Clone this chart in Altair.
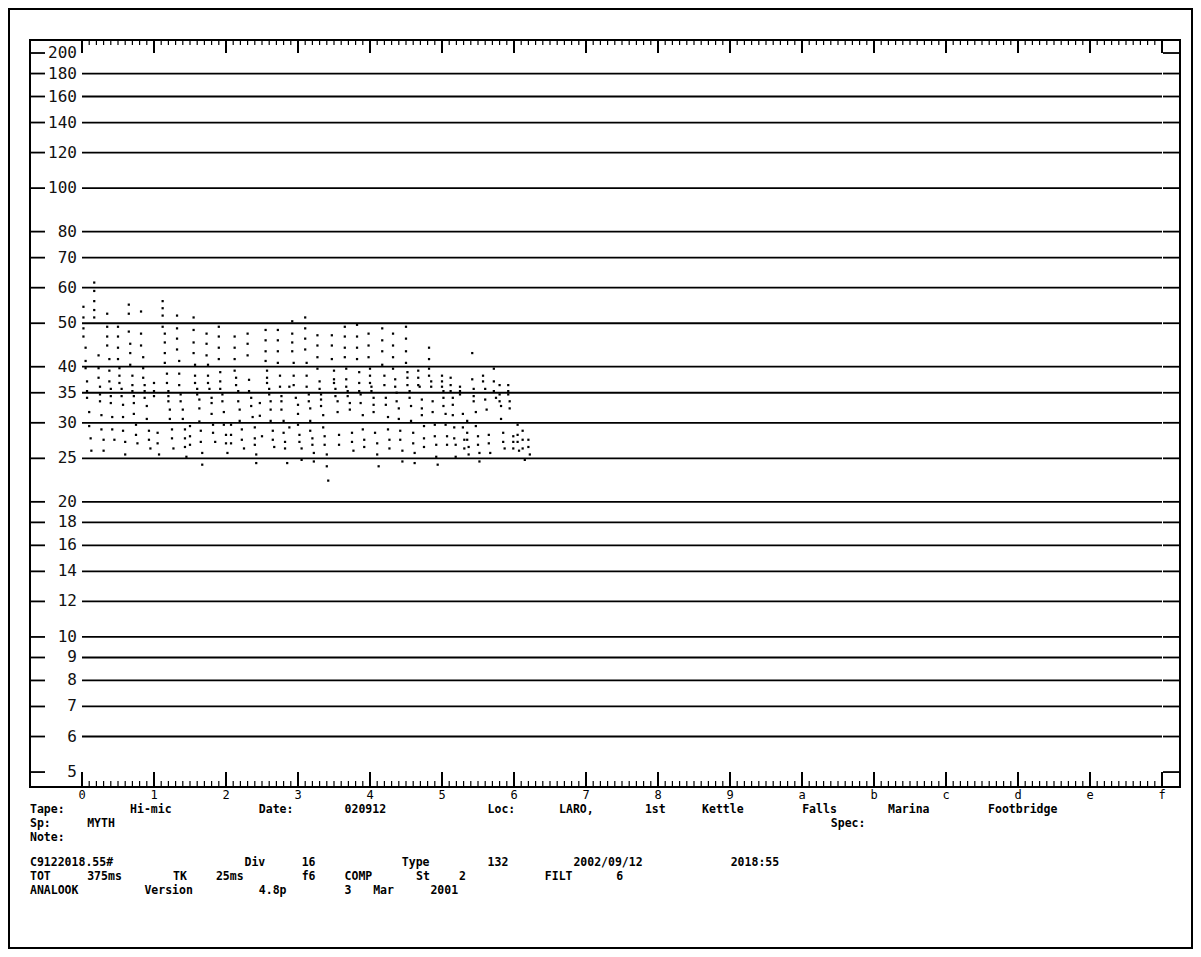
import re
import altair as alt
import pandas as pd

# ---------------- data (time units, kHz) ----------------
dots_a = [
    (0.02, 54.4), (0.02, 51.5), (0.02, 48.7), (0.02, 46.7), (0.05, 44.1), (0.05, 41.2), (0.05, 39.7),
    (0.07, 37.1), (0.07, 35.3), (0.07, 34.1), (0.10, 31.7), (0.10, 29.5), (0.12, 27.7), (0.13, 26.0),
    (0.17, 61.6), (0.17, 59.0), (0.17, 56.0), (0.17, 53.5), (0.17, 51.5),
    (0.23, 42.4), (0.23, 39.7), (0.23, 37.8), (0.25, 36.1), (0.25, 34.7), (0.25, 33.5), (0.27, 31.2),
    (0.27, 29.0), (0.30, 27.5), (0.30, 26.0),
    (0.35, 52.5), (0.35, 49.1), (0.35, 46.7), (0.35, 44.6), (0.38, 41.6), (0.38, 39.2), (0.38, 37.1),
    (0.40, 35.7), (0.40, 34.4), (0.40, 33.2), (0.42, 30.9), (0.42, 29.0), (0.45, 27.5),
    (0.50, 49.1), (0.50, 46.7), (0.50, 44.1), (0.50, 41.6), (0.52, 39.7), (0.52, 38.2), (0.52, 36.8),
    (0.55, 35.7), (0.55, 34.4), (0.57, 32.9), (0.57, 30.9), (0.57, 28.8), (0.60, 27.2), (0.60, 25.5),
    (0.65, 55.0), (0.65, 52.5), (0.65, 47.9), (0.67, 45.0), (0.67, 42.9), (0.67, 40.4), (0.70, 38.2),
    (0.70, 36.4), (0.70, 35.3), (0.72, 34.4), (0.72, 33.2), (0.72, 31.4), (0.75, 29.7), (0.75, 28.2),
    (0.77, 27.0),
    (0.82, 53.1), (0.82, 47.4), (0.82, 44.6), (0.85, 42.0), (0.85, 39.7), (0.85, 37.8), (0.87, 36.4),
    (0.87, 35.3), (0.87, 34.1), (0.90, 32.7), (0.90, 30.6), (0.93, 28.8), (0.93, 27.5), (0.95, 26.3),
    (1.00, 36.8), (1.00, 35.3), (1.00, 34.4), (1.05, 28.5), (1.05, 27.0), (1.07, 25.5),
    (1.12, 56.0), (1.12, 54.0), (1.12, 52.0), (1.12, 49.1), (1.15, 47.4), (1.15, 45.3), (1.15, 42.9),
    (1.15, 40.8), (1.18, 38.6), (1.18, 36.8), (1.20, 35.3), (1.20, 34.4), (1.20, 33.5), (1.22, 32.1),
    (1.22, 30.6), (1.25, 29.0), (1.25, 27.7), (1.27, 26.3),
    (1.32, 52.0), (1.32, 48.7), (1.32, 46.2), (1.32, 43.7), (1.35, 41.2), (1.35, 38.6), (1.35, 36.4),
    (1.37, 34.7), (1.37, 33.5), (1.40, 32.1), (1.40, 30.6), (1.43, 29.0), (1.43, 27.7), (1.43, 26.5),
    (1.45, 25.2), (1.50, 29.5), (1.50, 28.0), (1.50, 26.8),
]
dots_b = [
    (1.55, 51.5), (1.55, 48.3), (1.55, 45.3), (1.55, 42.9), (1.57, 40.4), (1.57, 38.2), (1.57, 36.8),
    (1.60, 35.7), (1.60, 34.7), (1.63, 33.8), (1.63, 32.3), (1.63, 30.2), (1.65, 28.8), (1.65, 27.2),
    (1.67, 25.7), (1.67, 24.2),
    (1.73, 47.4), (1.73, 45.0), (1.73, 42.4), (1.75, 40.4), (1.75, 38.2), (1.75, 36.8), (1.77, 35.7),
    (1.80, 34.1), (1.80, 33.2), (1.80, 31.4), (1.82, 29.7), (1.82, 28.5), (1.85, 27.2),
    (1.90, 49.1), (1.90, 46.7), (1.90, 44.1), (1.90, 41.6), (1.92, 38.9), (1.92, 37.1), (1.92, 35.7),
    (1.95, 34.7), (1.95, 33.5), (1.97, 31.7), (1.97, 29.7), (2.00, 28.2), (2.00, 27.0), (2.02, 25.7),
    (2.07, 29.7), (2.07, 28.2), (2.07, 27.0),
    (2.12, 46.7), (2.12, 44.1), (2.12, 41.6), (2.12, 39.2), (2.14, 37.8), (2.14, 36.4), (2.17, 35.3),
    (2.17, 33.5), (2.19, 32.1), (2.19, 30.3), (2.22, 29.0), (2.22, 27.5), (2.25, 26.3),
    (2.30, 47.4), (2.30, 45.0), (2.30, 42.4), (2.32, 37.4), (2.32, 35.3), (2.35, 34.1), (2.35, 32.7),
    (2.37, 30.9), (2.40, 29.3), (2.40, 27.7), (2.40, 26.8), (2.42, 25.5), (2.42, 24.4),
    (2.47, 33.2), (2.47, 31.1), (2.50, 28.0),
    (2.55, 48.3), (2.55, 45.8), (2.55, 43.3), (2.55, 41.2), (2.57, 39.2), (2.57, 37.8), (2.57, 36.8),
    (2.60, 35.7), (2.60, 34.7), (2.62, 33.5), (2.62, 32.1), (2.62, 30.3), (2.65, 28.8), (2.65, 27.5),
    (2.67, 26.5),
    (2.72, 48.3), (2.72, 45.8), (2.72, 43.3), (2.72, 40.8), (2.75, 38.2), (2.75, 36.1), (2.77, 34.4),
    (2.77, 33.5), (2.77, 32.1), (2.80, 30.3), (2.80, 28.5), (2.82, 27.2), (2.82, 26.3), (2.85, 24.4),
    (2.88, 36.1), (2.88, 29.3),
    (2.92, 50.5), (2.92, 47.4), (2.92, 45.3), (2.92, 43.3), (2.94, 40.8), (2.94, 38.2), (2.94, 36.4),
    (2.97, 34.1), (3.00, 32.9), (3.00, 31.4), (3.00, 29.7), (3.02, 28.2), (3.02, 27.2), (3.05, 26.3),
    (3.05, 24.8),
    (3.10, 51.5), (3.10, 48.7), (3.10, 46.2), (3.10, 43.7), (3.12, 40.8), (3.12, 38.2), (3.12, 36.1),
    (3.15, 34.7), (3.15, 33.5), (3.17, 32.3), (3.17, 30.3), (3.17, 28.8), (3.20, 27.7), (3.20, 26.8),
    (3.22, 25.7), (3.22, 24.6),
]
dots_c = [
    (3.27, 47.0), (3.27, 44.6), (3.27, 42.0), (3.27, 39.6), (3.30, 37.1), (3.30, 35.7), (3.32, 34.7),
    (3.32, 33.8), (3.32, 32.7), (3.35, 31.2), (3.35, 29.3), (3.37, 28.0), (3.37, 26.8), (3.40, 25.5),
    (3.40, 24.0), (3.42, 22.3),
    (3.47, 47.0), (3.47, 44.6), (3.47, 41.6), (3.50, 39.2), (3.50, 37.5), (3.50, 36.8), (3.52, 35.7),
    (3.52, 34.4), (3.55, 33.5), (3.55, 31.7), (3.57, 28.2), (3.57, 26.8),
    (3.65, 49.1), (3.65, 46.7), (3.65, 44.1), (3.65, 42.0), (3.67, 39.6), (3.67, 37.5), (3.67, 36.1),
    (3.69, 35.3), (3.69, 34.4), (3.72, 33.2), (3.72, 32.1), (3.75, 28.5), (3.75, 27.2), (3.77, 26.0),
    (3.82, 49.6), (3.82, 46.7), (3.82, 44.1), (3.82, 41.6), (3.85, 38.9), (3.85, 36.8), (3.85, 35.3),
    (3.87, 34.7), (3.87, 33.2), (3.90, 31.2), (3.90, 29.0), (3.92, 27.5), (3.92, 26.5),
    (3.98, 47.4), (3.98, 44.6), (3.98, 42.0), (4.00, 39.6), (4.00, 38.2), (4.00, 36.8), (4.02, 36.1),
    (4.02, 35.3), (4.05, 34.1), (4.05, 32.9), (4.05, 31.7), (4.07, 28.5), (4.10, 27.0), (4.10, 25.5),
    (4.12, 24.0),
    (4.17, 48.7), (4.17, 45.8), (4.17, 43.3), (4.17, 40.4), (4.20, 38.2), (4.20, 36.4), (4.22, 34.1),
    (4.22, 32.9), (4.25, 30.9), (4.25, 29.0), (4.27, 27.5), (4.27, 26.3),
    (4.32, 47.4), (4.32, 44.6), (4.32, 42.0), (4.32, 39.6), (4.35, 37.5), (4.35, 36.1), (4.37, 35.0),
    (4.37, 33.5), (4.40, 32.3), (4.40, 30.6), (4.42, 28.8), (4.42, 27.5), (4.45, 26.0), (4.45, 24.6),
    (4.50, 49.1), (4.50, 46.2), (4.50, 43.3), (4.50, 40.8), (4.52, 38.9), (4.52, 37.8), (4.52, 36.4),
    (4.55, 35.3), (4.55, 34.1), (4.57, 32.7), (4.57, 30.3), (4.60, 28.5), (4.60, 27.0), (4.62, 25.7),
    (4.62, 24.4),
    (4.67, 39.2), (4.67, 37.8), (4.67, 36.4), (4.69, 36.1), (4.72, 33.8), (4.72, 32.3), (4.72, 31.2),
    (4.75, 29.5), (4.75, 27.7), (4.75, 26.5),
]
dots_d = [
    (4.82, 44.1), (4.82, 41.6), (4.82, 39.6), (4.82, 38.2), (4.85, 37.1), (4.85, 36.1), (4.87, 33.5),
    (4.87, 31.7), (4.90, 29.7), (4.90, 28.0), (4.92, 26.8), (4.92, 25.2), (4.94, 24.2),
    (5.00, 38.2), (5.00, 37.1), (5.00, 36.1), (5.02, 35.3), (5.02, 34.1), (5.02, 32.7), (5.05, 31.4),
    (5.05, 29.7), (5.07, 28.0), (5.07, 26.8),
    (5.12, 37.8), (5.12, 36.4), (5.12, 35.3), (5.15, 34.1), (5.15, 32.9), (5.15, 31.2), (5.17, 29.3),
    (5.17, 27.7), (5.19, 26.8), (5.19, 25.2),
    (5.25, 36.1), (5.25, 35.3), (5.25, 34.7), (5.29, 31.4), (5.29, 29.3), (5.31, 27.5), (5.31, 26.3),
    (5.35, 30.3), (5.35, 28.5), (5.35, 27.5), (5.37, 26.5), (5.37, 25.5),
    (5.42, 42.9), (5.42, 37.5), (5.44, 35.7), (5.44, 34.4), (5.44, 33.5), (5.47, 31.7), (5.47, 29.5),
    (5.50, 28.0), (5.50, 26.8), (5.52, 25.7), (5.52, 24.6),
    (5.57, 38.2), (5.57, 37.1), (5.60, 35.7), (5.60, 33.8), (5.62, 32.1), (5.65, 28.2), (5.65, 27.0),
    (5.67, 25.7),
    (5.72, 39.6), (5.72, 37.1), (5.72, 35.3), (5.75, 34.1), (5.80, 36.4), (5.80, 34.7), (5.80, 33.5),
    (5.82, 32.7), (5.82, 30.6), (5.85, 28.5), (5.85, 27.2), (5.87, 26.3),
    (5.92, 36.4), (5.92, 35.3), (5.92, 34.7), (5.94, 33.5), (5.94, 32.3), (5.99, 28.0), (5.99, 27.2),
    (5.99, 26.3), (6.05, 29.7), (6.05, 28.2), (6.05, 27.2),
    (6.07, 26.0), (6.12, 28.8), (6.12, 27.5), (6.12, 26.3), (6.15, 24.8), (6.20, 27.5), (6.20, 26.5),
    (6.22, 25.5),
]

freq_levels = [200, 180, 160, 140, 120, 100, 80, 70, 60, 50, 40, 35, 30, 25,
               20, 18, 16, 14, 12, 10, 9, 8, 7, 6, 5]
grid_levels = [180, 160, 140, 120, 100, 80, 70, 60, 50, 40, 35, 30, 25,
               20, 18, 16, 14, 12, 10, 9, 8, 7, 6]
time_major = list(range(16))
time_labels = list("0123456789abcdef")
time_minor = [i / 10 for i in range(150) if i % 10]

info_lines = [
    "Tape:  Hi-mic   Date: 020912    Loc: LARO, 1st Kettle Falls Marina Footbridge",
    "Sp: MYTH" + " " * 48 + "Spec:",
    "Note:",
    "C9122018.55#   Div 16     Type  132   2002/09/12 2018:55",
    "TOT 375ms TK 25ms  f6 COMP St 2     FILT 6",
    "ANALOOK Version 4.8p  3 Mar 2001",
]

# ---------------- layout ----------------
W, H = 1150, 747
PITCH = 14.3
line_baselines = [773, 787, 801, 826, 840, 854]

xscale = alt.Scale(domain=[-0.7222, 15.25], nice=False, zero=False)
yscale = alt.Scale(type="log", domain=[4.631, 213.8], nice=False)

dots = pd.DataFrame(dots_a + dots_b + dots_c + dots_d, columns=["t", "khz"])
levels = pd.DataFrame({"f": freq_levels, "lab": [str(v) for v in freq_levels]})
grid = pd.DataFrame({"f": grid_levels, "t0": 0, "t1": 15})
majors = pd.DataFrame({"t": time_major, "lab": time_labels})
minors = pd.DataFrame({"t": time_minor})

words = []
for line, base in zip(info_lines, line_baselines):
    for m in re.finditer(r"\S+", line):
        words.append({"w": m.group(0), "px": m.start() * PITCH, "py": base})
words = pd.DataFrame(words)

X = lambda f: alt.X(f, scale=xscale, axis=None)
Y = lambda f: alt.Y(f, scale=yscale, axis=None)

grid_rules = alt.Chart(grid).mark_rule(color="black", strokeWidth=1.8).encode(
    x=X("t0:Q"), x2="t1:Q", y=Y("f:Q"))
left_stubs = alt.Chart(levels).mark_rule(color="black", strokeWidth=1.8).encode(
    x=alt.value(0), x2=alt.value(15), y=Y("f:Q"))
right_stubs = alt.Chart(levels).mark_rule(color="black", strokeWidth=1.8).encode(
    x=alt.value(1133), x2=alt.value(W), y=Y("f:Q"))
ylabels = alt.Chart(levels).mark_text(
    align="right", baseline="middle", font="DejaVu Sans Mono", fontSize=16, color="#111"
).encode(x=alt.value(47), y=Y("f:Q"), text="lab:N")

top_minor = alt.Chart(minors).mark_rule(color="black", strokeWidth=1.2).encode(
    x=X("t:Q"), y=alt.value(0), y2=alt.value(5))
top_major = alt.Chart(majors).mark_rule(color="black", strokeWidth=2).encode(
    x=X("t:Q"), y=alt.value(0), y2=alt.value(13))
bot_minor = alt.Chart(minors).mark_rule(color="black", strokeWidth=1.2).encode(
    x=X("t:Q"), y=alt.value(H), y2=alt.value(H - 6))
bot_major = alt.Chart(majors).mark_rule(color="black", strokeWidth=2).encode(
    x=X("t:Q"), y=alt.value(H), y2=alt.value(H - 15))
xlabels = alt.Chart(majors).mark_text(
    align="center", baseline="alphabetic", font="DejaVu Sans Mono", fontSize=12, color="black"
).encode(x=X("t:Q"), y=alt.value(759), text="lab:N")

points = alt.Chart(dots).mark_square(size=5, color="black", opacity=1).encode(
    x=X("t:Q"), y=Y("khz:Q"))

info = alt.Chart(words).mark_text(
    align="left", baseline="alphabetic", font="DejaVu Sans Mono", fontSize=11.5,
    fontWeight="bold", color="black"
).encode(x=alt.X("px:Q", scale=None, axis=None), y=alt.Y("py:Q", scale=None, axis=None), text="w:N")

outer = alt.Chart(pd.DataFrame({"k": [0]})).mark_rect(
    filled=False, stroke="black", strokeWidth=2
).encode(x=alt.value(-21), x2=alt.value(1162), y=alt.value(-31), y2=alt.value(908))

chart = alt.layer(
    outer, grid_rules, left_stubs, right_stubs, ylabels,
    top_minor, top_major, bot_minor, bot_major, xlabels, points, info
).properties(
    width=W, height=H,
    padding={"left": 22, "top": 32, "right": 13, "bottom": 162},
    autosize=alt.AutoSizeParams(type="none"),
    background="white",
).configure_view(stroke="black", strokeWidth=2)

chart.save("out.html", embed_options={"renderer": "svg", "actions": False})
